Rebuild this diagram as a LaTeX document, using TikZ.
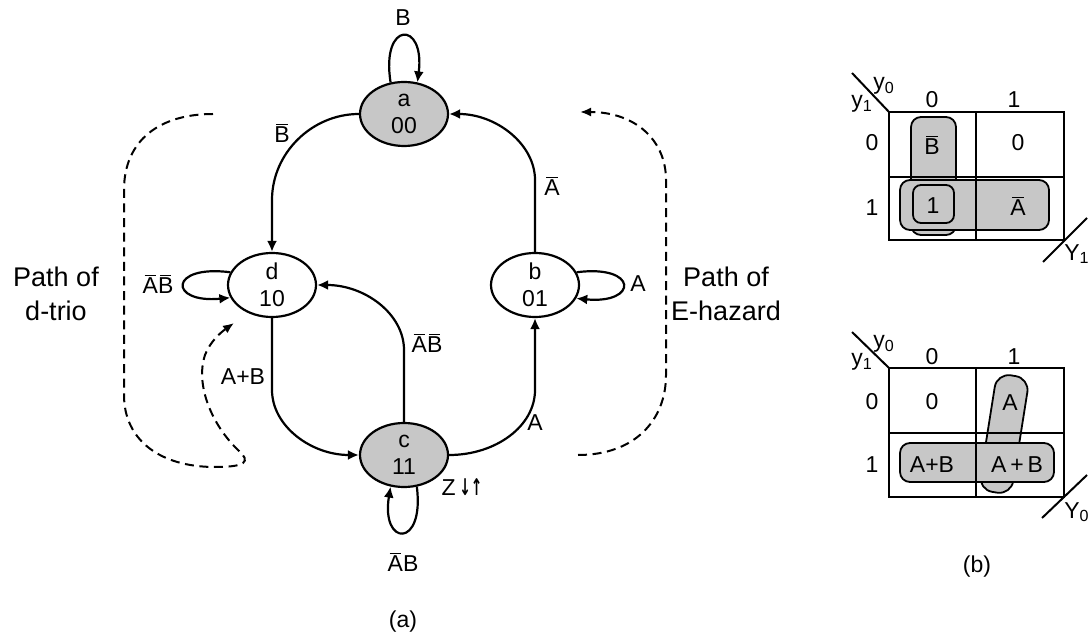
\documentclass[tikz,border=0pt]{standalone}
\usepackage{fontspec}
\setmainfont{Liberation Sans}
\newfontfamily\djv{DejaVu Sans}
\usetikzlibrary{shapes.geometric,arrows.meta}
\newcommand{\nb}[1]{$\mkern1.5mu\overline{\mkern-1.5mu\mbox{#1}\mkern-1.5mu}\mkern1.5mu$}
\begin{document}
\begin{tikzpicture}[x=0.5pt,y=-0.5pt,
  state/.style={ellipse, draw, line width=1.1pt, minimum width=44pt, minimum height=32pt,
    inner sep=0pt, align=center, font=\fontsize{11.5}{13.5}\selectfont},
  shaded/.style={state, fill=black!22},
  arr/.style={line width=1.1pt, -{Latex[length=5.5pt,width=5pt]}},
  dsh/.style={line width=1pt, dash pattern=on 4.5pt off 2.8pt, -{Latex[length=5.5pt,width=4.5pt]}},
  lbl/.style={font=\fontsize{11.5}{12}\selectfont, inner sep=1pt},
  big/.style={font=\fontsize{13.5}{17}\selectfont, align=center, inner sep=0pt},
  kgrid/.style={line width=1pt},
  kloop/.style={draw, line width=0.9pt, fill=black!22, rounded corners=5pt},
]
\useasboundingbox (0,0) rectangle (1090,635);

% states
\node[shaded] (a) at (404,114) {a\\00};
\node[state]  (d) at (272,285) {d\\10};
\node[state]  (b) at (535,285) {b\\01};
\node[shaded] (c) at (404,455) {c\\11};

% transitions
\draw[arr] (a.west) .. controls (312,114) and (272,153) .. (272,200) -- (d.north);
\draw[arr] (b.north) -- (535,180) .. controls (535,144) and (496,114) .. (a.east);
\draw[arr] (d.south) -- (272,390) .. controls (272,426) and (311,455) .. (c.west);
\draw[arr] (c.north) -- (404,350) .. controls (404,314) and (365,285) .. (d.east);
\draw[arr] (c.east) .. controls (496,455) and (535,426) .. (535,390) -- (b.south);

% self loops
\draw[arr] (a.113) .. controls +(-10,-62) and +(8,-62) .. (a.67);
\draw[arr] (d.163) .. controls +(-62,-8) and +(-62,6) .. (d.197);
\draw[arr] (b.17) .. controls +(62,-8) and +(62,6) .. (b.342);
\draw[arr] (c.292) .. controls +(8,62) and +(-10,60) .. (c.247);

% labels
\node[lbl] at (403,18) {B};
\node[lbl] at (282,133) {\nb{B}};
\node[lbl] at (552,186) {\nb{A}};
\node[lbl] at (158,284) {\nb{A}\nb{B}};
\node[lbl] at (638,284) {A};
\node[lbl] at (427,343) {\nb{A}\nb{B}};
\node[lbl] at (243,377) {A+B};
\node[lbl] at (535,423) {A};
\node[lbl] at (462,487) {Z\,\scalebox{0.6}[1]{\djv\bfseries ↓↑}};
\node[lbl] at (403,562) {\nb{A}B};
\node[lbl] at (403,622) {(a)};

% dashed paths
\coordinate (ls) at (213,114);
\coordinate (le) at (234,323);
\draw[dsh] (ls) .. controls (160,114) and (124,140) .. (124,190) -- (124,395)
  .. controls (124,440) and (160,467) .. (215,467)
  .. controls (245,467) and (252,462) .. (238,450)
  .. controls (212,425) and (195,385) .. (205,355)
  .. controls (210,342) and (220,333) .. (le);
\coordinate (rs) at (578,455);
\coordinate (re) at (580,112);
\draw[dsh] (rs) .. controls (635,455) and (666,420) .. (666,375) -- (666,180)
  .. controls (666,140) and (635,112) .. (re);

\node[big] (pd) at (56,294) {Path of\\d-trio};
\node[big] (pe) at (726,294) {Path of\\E-hazard};

% K-map top (Y1)
\draw[kloop] (911,117) rectangle (956,235);
\draw[kloop] (900,180) rectangle (1049,230);
\draw[kloop, rounded corners=4pt] (913,185) rectangle (954,223);
\draw[kgrid] (889,112) rectangle (1064,240);
\draw[kgrid] (976,112) -- (976,240);
\draw[kgrid] (889,177) -- (1064,177);
\draw[kgrid] (852,73) -- (889,112);
\draw[kgrid] (1043,262) -- (1087,218);
\node[lbl] at (884,86) {y\textsubscript{0}};
\node[lbl] at (862,104) {y\textsubscript{1}};
\node[lbl] at (932,100) {0};
\node[lbl] at (1014,100) {1};
\node[lbl] at (872,143) {0};
\node[lbl] at (872,208) {1};
\node[lbl] at (932,145) {\nb{B}};
\node[lbl] at (1018,143) {0};
\node[lbl] at (933,206) {1};
\node[lbl] at (1018,206) {\nb{A}};
\node[lbl] at (1077,254) {Y\textsubscript{1}};

% K-map bottom (Y0)
\node[kloop, rounded corners=7pt, minimum width=16.5pt, minimum height=59pt, rotate=-9] (tl) at (1004,434) {};
\draw[kloop] (900,443) rectangle (1054,482);
\draw[kgrid] (889,368) rectangle (1064,497);
\draw[kgrid] (976,368) -- (976,497);
\draw[kgrid] (889,433) -- (1064,433);
\draw[kgrid] (852,332) -- (889,368);
\draw[kgrid] (1042,518) -- (1087,475);
\node[lbl] at (884,344) {y\textsubscript{0}};
\node[lbl] at (862,362) {y\textsubscript{1}};
\node[lbl] at (932,357) {0};
\node[lbl] at (1014,357) {1};
\node[lbl] at (872,402) {0};
\node[lbl] at (872,465) {1};
\node[lbl] at (932,402) {0};
\node[lbl] at (1010,403) {A};
\node[lbl] at (932,465) {A+B};
\node[lbl] at (1017,465) {A\,+\,B};
\node[lbl] at (1077,512) {Y\textsubscript{0}};
\node[lbl] at (977,567) {(b)};
\end{tikzpicture}
\end{document}
